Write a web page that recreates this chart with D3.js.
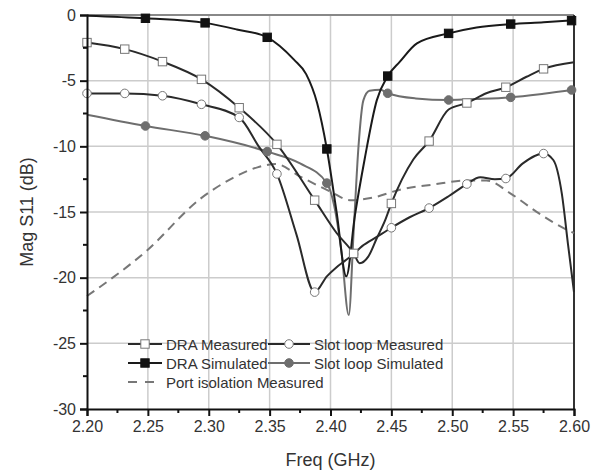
<!DOCTYPE html>
<html>
<head>
<meta charset="utf-8">
<script src="https://cdn.jsdelivr.net/npm/d3@7"></script>
<style>
  body { margin: 0; background: #fff; }
  svg { font-family: "Liberation Sans", Arial, sans-serif; }
</style>
</head>
<body>
<div id="chart"></div>
<script>
// values
const xTicks = [2.20, 2.25, 2.30, 2.35, 2.40, 2.45, 2.50, 2.55, 2.60];
const yTicks = [0, -5, -10, -15, -20, -25, -30];

// DRA Measured
const draMeasF  = [2.200, 2.231, 2.262, 2.294, 2.325, 2.356, 2.387, 2.405, 2.419, 2.424, 2.431, 2.438, 2.445, 2.450, 2.468, 2.481, 2.497, 2.512, 2.528, 2.544, 2.561, 2.575, 2.600];
const draMeasDb = [-2.1, -2.6, -3.55, -4.9, -7.06, -9.85, -14.1, -16.6, -18.15, -18.9, -18.4, -17.0, -15.6, -14.35, -11.0, -9.6, -7.2, -6.7, -5.96, -5.5, -4.7, -4.1, -3.6];
const draMeasMarkF  = [2.200, 2.231, 2.262, 2.294, 2.325, 2.356, 2.387, 2.419, 2.450, 2.481, 2.512, 2.544, 2.575];
const draMeasMarkDb = [-2.1, -2.6, -3.55, -4.9, -7.06, -9.85, -14.1, -18.15, -14.35, -9.6, -6.7, -5.5, -4.1];

// DRA Simulated
const draSimF  = [2.200, 2.248, 2.297, 2.323, 2.348, 2.370, 2.380, 2.389, 2.397, 2.405, 2.413, 2.420, 2.428, 2.438, 2.447, 2.457, 2.471, 2.497, 2.520, 2.548, 2.575, 2.600];
const draSimDb = [-0.05, -0.25, -0.6, -1.1, -1.7, -3.4, -4.5, -6.7, -10.2, -15.0, -19.9, -15.3, -11.0, -6.5, -4.65, -3.55, -2.16, -1.4, -0.95, -0.69, -0.55, -0.4];
const draSimMarkF  = [2.248, 2.297, 2.348, 2.397, 2.447, 2.497, 2.548, 2.598];
const draSimMarkDb = [-0.25, -0.6, -1.7, -10.2, -4.65, -1.4, -0.69, -0.43];

// Slot loop Measured
const slotMeasF  = [2.200, 2.231, 2.262, 2.294, 2.325, 2.341, 2.356, 2.372, 2.387, 2.397, 2.405, 2.412, 2.419, 2.426, 2.438, 2.450, 2.465, 2.481, 2.497, 2.512, 2.523, 2.535, 2.544, 2.558, 2.575, 2.583, 2.590, 2.595, 2.600];
const slotMeasDb = [-5.97, -5.97, -6.15, -6.8, -7.8, -10.0, -12.1, -16.7, -21.1, -19.9, -19.2, -18.7, -18.2, -17.6, -16.9, -16.2, -15.4, -14.7, -13.8, -12.87, -12.36, -12.5, -12.45, -11.3, -10.55, -11.04, -13.6, -17.4, -21.1];
const slotMeasMarkF  = [2.200, 2.231, 2.262, 2.294, 2.325, 2.356, 2.387, 2.419, 2.450, 2.481, 2.512, 2.544, 2.575];
const slotMeasMarkDb = [-5.97, -5.97, -6.15, -6.8, -7.8, -12.1, -21.1, -18.2, -16.2, -14.7, -12.87, -12.45, -10.55];

// Slot loop Simulated
const slotSimF  = [2.200, 2.248, 2.297, 2.348, 2.375, 2.397, 2.403, 2.409, 2.415, 2.419, 2.423, 2.427, 2.432, 2.441, 2.447, 2.470, 2.497, 2.520, 2.548, 2.575, 2.600];
const slotSimDb = [-7.6, -8.45, -9.2, -10.4, -11.3, -12.8, -14.5, -18.0, -22.85, -16.5, -10.0, -6.5, -5.77, -5.7, -5.96, -6.35, -6.47, -6.4, -6.27, -6.0, -5.7];
const slotSimMarkF  = [2.248, 2.297, 2.348, 2.397, 2.447, 2.497, 2.548, 2.598];
const slotSimMarkDb = [-8.45, -9.2, -10.4, -12.8, -5.96, -6.47, -6.27, -5.71];

// Port isolation Measured
const portF  = [2.200, 2.249, 2.293, 2.320, 2.340, 2.355, 2.375, 2.400, 2.416, 2.435, 2.457, 2.485, 2.512, 2.528, 2.548, 2.569, 2.593, 2.600];
const portDb = [-21.4, -17.95, -14.0, -12.4, -11.6, -11.35, -12.3, -13.45, -14.1, -13.9, -13.3, -12.9, -12.6, -12.6, -13.6, -14.97, -16.3, -16.6];

const W = 603, H = 473;
const margin = {left: 87, right: 29, top: 15, bottom: 64};

const svg = d3.select("#chart").append("svg")
    .attr("width", W)
    .attr("height", H);

const x = d3.scaleLinear().domain([2.2, 2.6]).range([margin.left, W - margin.right]);
const y = d3.scaleLinear().domain([-30, 0]).range([H - margin.bottom, margin.top]);

const minorX = d3.range(2.225, 2.6, 0.05);
const minorY = d3.range(-2.5, -30, -5);

// grid
const grid = svg.append("g");
grid.selectAll(".gx").data(xTicks.slice(1, -1)).enter().append("line")
    .attr("x1", d => x(d)).attr("x2", d => x(d))
    .attr("y1", y(0)).attr("y2", y(-30))
    .attr("stroke", "#cccccc").attr("stroke-width", 1.5);
grid.selectAll(".gy").data(yTicks.slice(1, -1)).enter().append("line")
    .attr("x1", x(2.2)).attr("x2", x(2.6))
    .attr("y1", d => y(d)).attr("y2", d => y(d))
    .attr("stroke", "#cccccc").attr("stroke-width", 1.5);

// frame (top / right)
svg.append("line").attr("x1", x(2.2)).attr("x2", x(2.6)).attr("y1", y(0)).attr("y2", y(0))
    .attr("stroke", "#888").attr("stroke-width", 2);
svg.append("line").attr("x1", x(2.6)).attr("x2", x(2.6)).attr("y1", y(0)).attr("y2", y(-30))
    .attr("stroke", "#333").attr("stroke-width", 2);

const line = d3.line()
    .x(d => x(d[0]))
    .y(d => y(d[1]))
    .curve(d3.curveMonotoneX);

function zip(a, b) { return a.map((v, i) => [v, b[i]]); }

const plot = svg.append("g");

plot.append("path").datum(zip(portF, portDb)).attr("d", line)
    .attr("fill", "none").attr("stroke", "#777").attr("stroke-width", 2)
    .attr("stroke-dasharray", "9,6");
plot.append("path").datum(zip(slotSimF, slotSimDb)).attr("d", line)
    .attr("fill", "none").attr("stroke", "#6e6e6e").attr("stroke-width", 2);
plot.append("path").datum(zip(draSimF, draSimDb)).attr("d", line)
    .attr("fill", "none").attr("stroke", "#1a1a1a").attr("stroke-width", 2);
plot.append("path").datum(zip(slotMeasF, slotMeasDb)).attr("d", line)
    .attr("fill", "none").attr("stroke", "#2a2a2a").attr("stroke-width", 2);
plot.append("path").datum(zip(draMeasF, draMeasDb)).attr("d", line)
    .attr("fill", "none").attr("stroke", "#2a2a2a").attr("stroke-width", 2);

function squares(data, fill, stroke) {
    plot.append("g").selectAll("rect").data(data).enter().append("rect")
        .attr("x", d => x(d[0]) - 4.2).attr("y", d => y(d[1]) - 4.2)
        .attr("width", 8.4).attr("height", 8.4)
        .attr("fill", fill).attr("stroke", stroke).attr("stroke-width", 1);
}
function circles(data, fill, stroke) {
    plot.append("g").selectAll("circle").data(data).enter().append("circle")
        .attr("cx", d => x(d[0])).attr("cy", d => y(d[1])).attr("r", 4.3)
        .attr("fill", fill).attr("stroke", stroke).attr("stroke-width", 1);
}

circles(zip(slotSimMarkF, slotSimMarkDb), "#6e6e6e", "#6e6e6e");
squares(zip(draSimMarkF, draSimMarkDb), "#111", "#111");
circles(zip(slotMeasMarkF, slotMeasMarkDb), "#fff", "#777");
squares(zip(draMeasMarkF, draMeasMarkDb), "#fff", "#777");

// axes
const xAxis = svg.append("g").attr("transform", `translate(0,${y(-30)})`)
    .call(d3.axisBottom(x).tickValues(xTicks).tickFormat(d3.format(".2f")).tickSize(7).tickPadding(5));
xAxis.append("g").selectAll("line").data(minorX).enter().append("line")
    .attr("x1", d => x(d)).attr("x2", d => x(d)).attr("y1", 0).attr("y2", 4)
    .attr("stroke", "#111").attr("stroke-width", 2);

const yAxis = svg.append("g").attr("transform", `translate(${x(2.2)},0)`)
    .call(d3.axisLeft(y).tickValues(yTicks).tickFormat(d3.format("d")).tickSize(7).tickPadding(4));
yAxis.append("g").selectAll("line").data(minorY).enter().append("line")
    .attr("y1", d => y(d)).attr("y2", d => y(d)).attr("x1", 0).attr("x2", -4)
    .attr("stroke", "#111").attr("stroke-width", 2);

[xAxis, yAxis].forEach(a => {
    a.select(".domain").attr("stroke", "#111").attr("stroke-width", 2);
    a.selectAll(".tick line").attr("stroke", "#111").attr("stroke-width", 2);
    a.selectAll(".tick text").attr("fill", "#333").style("font-size", "16px")
        .style("font-family", "'Liberation Sans', Arial, sans-serif");
});
yAxis.selectAll(".tick text").text(d => d === 0 ? "0" : "-" + Math.abs(d));

// axis titles
svg.append("text").attr("x", (x(2.2) + x(2.6)) / 2).attr("y", 466)
    .attr("text-anchor", "middle").attr("fill", "#333").style("font-size", "18px")
    .text("Freq (GHz)");
svg.append("text").attr("transform", `translate(33,${(y(0) + y(-30)) / 2}) rotate(-90)`)
    .attr("text-anchor", "middle").attr("fill", "#333").style("font-size", "18px")
    .text("Mag S11 (dB)");

// legend
const legend = svg.append("g").style("font-size", "15px");
const legItems = [
    {label: "DRA Measured", lx: 128, row: 0, marker: "square", fill: "#fff", stroke: "#777", color: "#2a2a2a"},
    {label: "DRA Simulated", lx: 128, row: 1, marker: "square", fill: "#111", stroke: "#111", color: "#1a1a1a"},
    {label: "Port isolation Measured", lx: 128, row: 2, marker: "none", color: "#777", dash: "9,8"},
    {label: "Slot loop Measured", lx: 268, row: 0, marker: "circle", fill: "#fff", stroke: "#777", color: "#2a2a2a"},
    {label: "Slot loop Simulated", lx: 268, row: 1, marker: "circle", fill: "#6e6e6e", stroke: "#6e6e6e", color: "#6e6e6e"}
];
const rowY = [344, 363, 382];
legItems.forEach(it => {
    const yy = rowY[it.row];
    const len = it.lx === 128 ? 34 : 42;
    legend.append("line").attr("x1", it.lx).attr("x2", it.lx + len).attr("y1", yy).attr("y2", yy)
        .attr("stroke", it.color).attr("stroke-width", 2)
        .attr("stroke-dasharray", it.dash || null);
    const mx = it.lx + len / 2;
    if (it.marker === "square") {
        legend.append("rect").attr("x", mx - 4.2).attr("y", yy - 4.2).attr("width", 8.4).attr("height", 8.4)
            .attr("fill", it.fill).attr("stroke", it.stroke);
    } else if (it.marker === "circle") {
        legend.append("circle").attr("cx", mx).attr("cy", yy).attr("r", 4.3)
            .attr("fill", it.fill).attr("stroke", it.stroke);
    }
    legend.append("text").attr("x", it.lx + len + 4).attr("y", yy + 5.5)
        .attr("fill", "#333").text(it.label);
});
</script>
</body>
</html>
